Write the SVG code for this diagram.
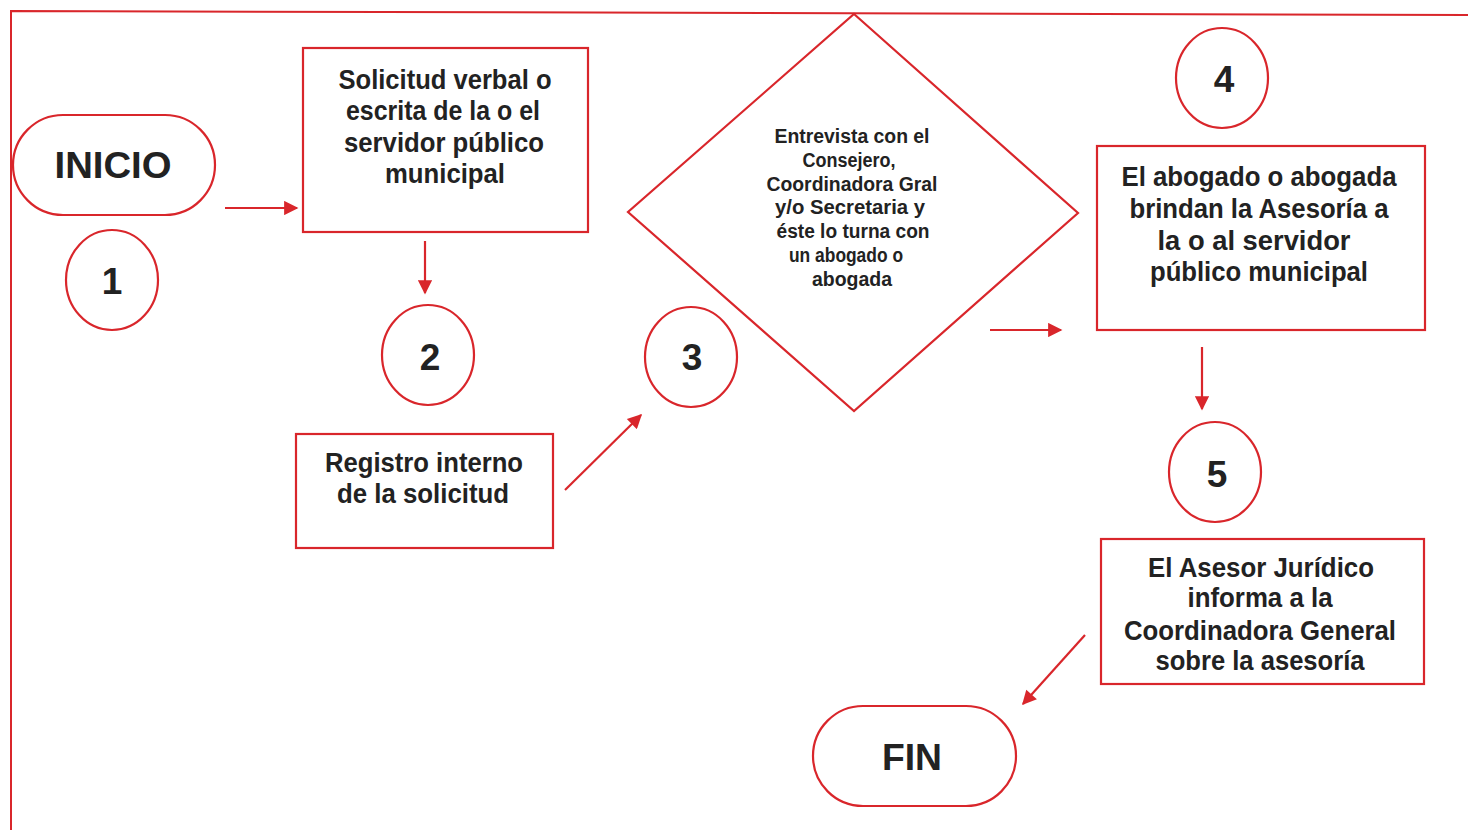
<svg xmlns="http://www.w3.org/2000/svg" width="1468" height="830" viewBox="0 0 1468 830">
<style>
.s{fill:#fff;stroke:#d9262b;stroke-width:2.2}
.t{font-family:"Liberation Sans",Arial,sans-serif;font-weight:bold;fill:#222;text-anchor:middle}
.b{font-size:27px}
.d{font-size:20px}
.n{font-size:37px}
.c{stroke:#d9262b;stroke-width:2.2;fill:none;marker-end:url(#ah)}
</style>
<defs>
<marker id="ah" viewBox="0 0 10 10" refX="9" refY="5" markerWidth="8" markerHeight="6.5" orient="auto" markerUnits="strokeWidth">
<path d="M0,0 L10,5 L0,10 z" fill="#d9262b"/>
</marker>
</defs>
<rect width="1468" height="830" fill="#fff"/>
<g id="frame"><path d="M11,830 L11,11 L1468,15" fill="none" stroke="#d9262b" stroke-width="2"/></g>
<g id="connectors">
<line class="c" x1="225" y1="208" x2="297" y2="208"/>
<line class="c" x1="425" y1="241" x2="425" y2="293"/>
<line class="c" x1="565" y1="490" x2="641" y2="415"/>
<line class="c" x1="990" y1="330" x2="1061" y2="330"/>
<line class="c" x1="1202" y1="347" x2="1202" y2="409"/>
<line class="c" x1="1085" y1="635" x2="1023" y2="704"/>
</g>
<g id="inicio">
<rect class="s" x="13" y="115" width="202" height="100" rx="50" ry="50"/>
<text class="t n" x="113" y="178" textLength="117" lengthAdjust="spacingAndGlyphs">INICIO</text>
</g>
<g id="c1"><ellipse class="s" cx="112" cy="280" rx="46" ry="50"/><text class="t n" x="112" y="294">1</text></g>
<g id="box1">
<rect class="s" x="303" y="48" width="285" height="184"/>
<text class="t b" x="445" y="89" textLength="213" lengthAdjust="spacingAndGlyphs">Solicitud verbal o</text>
<text class="t b" x="443" y="120" textLength="194" lengthAdjust="spacingAndGlyphs">escrita de la o el</text>
<text class="t b" x="444" y="152" textLength="200" lengthAdjust="spacingAndGlyphs">servidor público</text>
<text class="t b" x="445" y="183" textLength="120" lengthAdjust="spacingAndGlyphs">municipal</text>
</g>
<g id="c2"><ellipse class="s" cx="428" cy="355" rx="46" ry="50"/><text class="t n" x="430" y="370">2</text></g>
<g id="box2">
<rect class="s" x="296" y="434" width="257" height="114"/>
<text class="t b" x="424" y="472" textLength="198" lengthAdjust="spacingAndGlyphs">Registro interno</text>
<text class="t b" x="423" y="503" textLength="172" lengthAdjust="spacingAndGlyphs">de la solicitud</text>
</g>
<g id="c3"><ellipse class="s" cx="691" cy="357" rx="46" ry="50"/><text class="t n" x="692" y="370">3</text></g>
<g id="diamond">
<polygon class="s" points="854,14 1078,213 854,411 628,212"/>
<text class="t d" x="852" y="143" textLength="155" lengthAdjust="spacingAndGlyphs">Entrevista con el</text>
<text class="t d" x="849" y="167" textLength="93" lengthAdjust="spacingAndGlyphs">Consejero,</text>
<text class="t d" x="852" y="191" textLength="171" lengthAdjust="spacingAndGlyphs">Coordinadora Gral</text>
<text class="t d" x="850" y="214" textLength="150" lengthAdjust="spacingAndGlyphs">y/o Secretaria y</text>
<text class="t d" x="853" y="238" textLength="153" lengthAdjust="spacingAndGlyphs">éste lo turna con</text>
<text class="t d" x="846" y="262" textLength="114" lengthAdjust="spacingAndGlyphs">un abogado o</text>
<text class="t d" x="852" y="286" textLength="80" lengthAdjust="spacingAndGlyphs">abogada</text>
</g>
<g id="c4"><ellipse class="s" cx="1222" cy="78" rx="46" ry="50"/><text class="t n" x="1224" y="92">4</text></g>
<g id="box4">
<rect class="s" x="1097" y="146" width="328" height="184"/>
<text class="t b" x="1259" y="186" textLength="275" lengthAdjust="spacingAndGlyphs">El abogado o abogada</text>
<text class="t b" x="1259" y="218" textLength="259" lengthAdjust="spacingAndGlyphs">brindan la Asesoría a</text>
<text class="t b" x="1254" y="250" textLength="193" lengthAdjust="spacingAndGlyphs">la o al servidor</text>
<text class="t b" x="1259" y="281" textLength="218" lengthAdjust="spacingAndGlyphs">público municipal</text>
</g>
<g id="c5"><ellipse class="s" cx="1215" cy="472" rx="46" ry="50"/><text class="t n" x="1217" y="487">5</text></g>
<g id="box5">
<rect class="s" x="1101" y="539" width="323" height="145"/>
<text class="t b" x="1261" y="577" textLength="226" lengthAdjust="spacingAndGlyphs">El Asesor Jurídico</text>
<text class="t b" x="1260" y="607" textLength="145" lengthAdjust="spacingAndGlyphs">informa a la</text>
<text class="t b" x="1260" y="640" textLength="272" lengthAdjust="spacingAndGlyphs">Coordinadora General</text>
<text class="t b" x="1260" y="670" textLength="209" lengthAdjust="spacingAndGlyphs">sobre la asesoría</text>
</g>
<g id="fin">
<rect class="s" x="813" y="706" width="203" height="100" rx="50" ry="50"/>
<text class="t n" x="912" y="770" textLength="60" lengthAdjust="spacingAndGlyphs">FIN</text>
</g>
</svg>
